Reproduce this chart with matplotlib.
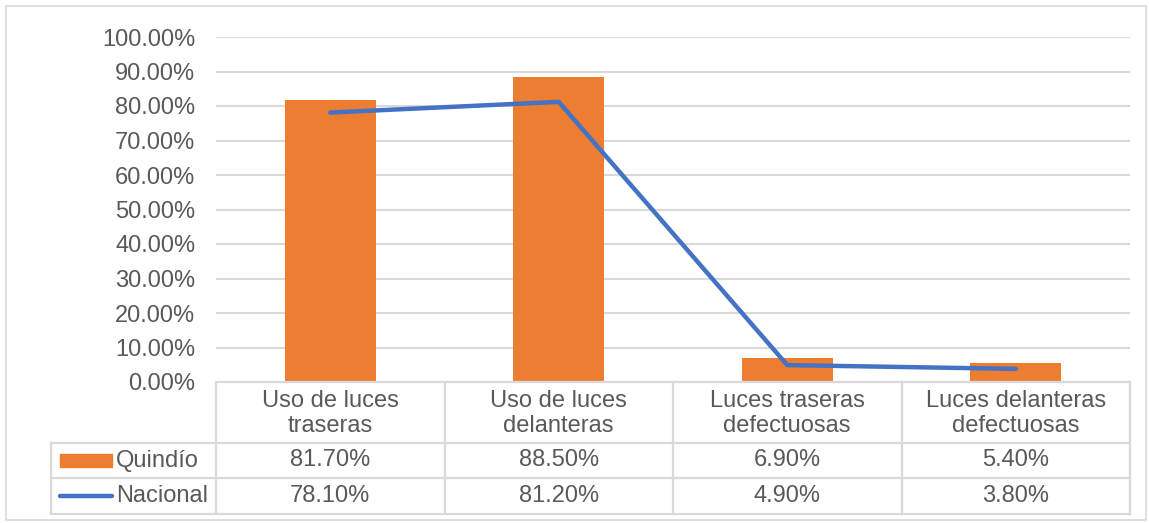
import matplotlib.pyplot as plt
import numpy as np
from matplotlib.lines import Line2D
from matplotlib.patches import Rectangle

plt.rcParams['font.family'] = ['Liberation Sans', 'DejaVu Sans']

categories = ["Uso de luces\ntraseras", "Uso de luces\ndelanteras",
              "Luces traseras\ndefectuosas", "Luces delanteras\ndefectuosas"]
quindio = [81.7, 88.5, 6.9, 5.4]
nacional = [78.1, 81.2, 4.9, 3.8]
series_names = ["Quindío", "Nacional"]
yticks = np.arange(0, 101, 10)

W, H = 1149, 523
orange = '#ED7D31'
blue = '#4472C4'
grid_c = '#D9D9D9'
text_c = '#595959'
fs = 17

def fx(px):
    return px / W

def fy(py):
    return 1 - py / H

fig = plt.figure(figsize=(W / 100, H / 100), dpi=100)

# plot area
x0, x1, ytop, ybot = 216, 1130, 37, 382
ax = fig.add_axes([fx(x0), fy(ybot), fx(x1) - fx(x0), fy(ytop) - fy(ybot)])
x = np.arange(len(categories))
ax.bar(x, quindio, width=0.4, color=orange, zorder=2)
ax.plot(x, nacional, color=blue, lw=3.2, zorder=3, solid_capstyle='round')
ax.set_xlim(-0.5, len(categories) - 0.5)
ax.set_ylim(0, 100)
ax.set_yticks(yticks)
ax.set_yticklabels([f"{v:.2f}%" for v in yticks], fontsize=fs, color=text_c)
ax.tick_params(axis='y', length=0, pad=15)
ax.set_xticks([])
ax.grid(axis='y', color=grid_c, lw=1.5, zorder=0)
for s in ax.spines.values():
    s.set_visible(False)

# data table
def hline(xa, xb, y):
    fig.add_artist(Line2D([fx(xa), fx(xb)], [fy(y), fy(y)], color=grid_c, lw=1.6))

def vline(xp, ya, yb):
    fig.add_artist(Line2D([fx(xp), fx(xp)], [fy(ya), fy(yb)], color=grid_c, lw=1.6))

row_h, row1, row2, row3 = 382, 443, 478, 514
col_edges = np.linspace(x0, x1, len(categories) + 1)
leg_left = 51

hline(x0, x1, row_h)
hline(leg_left, x1, row1)
hline(leg_left, x1, row2)
hline(leg_left, x1, row3)
vline(leg_left, row1, row3)
for ce in col_edges:
    vline(ce, row_h, row3)

for i, cat in enumerate(categories):
    cx = (col_edges[i] + col_edges[i + 1]) / 2
    fig.text(fx(cx), fy((row_h + row1) / 2 + 1), cat, ha='center', va='center',
             fontsize=fs, color=text_c, linespacing=1.15)
    fig.text(fx(cx), fy((row1 + row2) / 2), f"{quindio[i]:.2f}%", ha='center', va='center',
             fontsize=fs, color=text_c)
    fig.text(fx(cx), fy((row2 + row3) / 2), f"{nacional[i]:.2f}%", ha='center', va='center',
             fontsize=fs, color=text_c)

# legend keys
fig.add_artist(Rectangle((fx(60), fy(467)), fx(112) - fx(60), fy(454) - fy(467),
                         color=orange, transform=fig.transFigure))
fig.add_artist(Line2D([fx(60), fx(112)], [fy(496), fy(496)], color=blue, lw=3.2,
                      solid_capstyle='round'))
fig.text(fx(116), fy((row1 + row2) / 2), series_names[0], ha='left', va='center',
         fontsize=fs, color=text_c)
fig.text(fx(116), fy((row2 + row3) / 2), series_names[1], ha='left', va='center',
         fontsize=fs, color=text_c)

# chart border
fig.add_artist(Rectangle((fx(6), fy(520)), fx(1146) - fx(6), fy(6) - fy(520),
                         fill=False, edgecolor=grid_c, lw=1.2, transform=fig.transFigure))

fig.savefig("out.png", dpi=100)
